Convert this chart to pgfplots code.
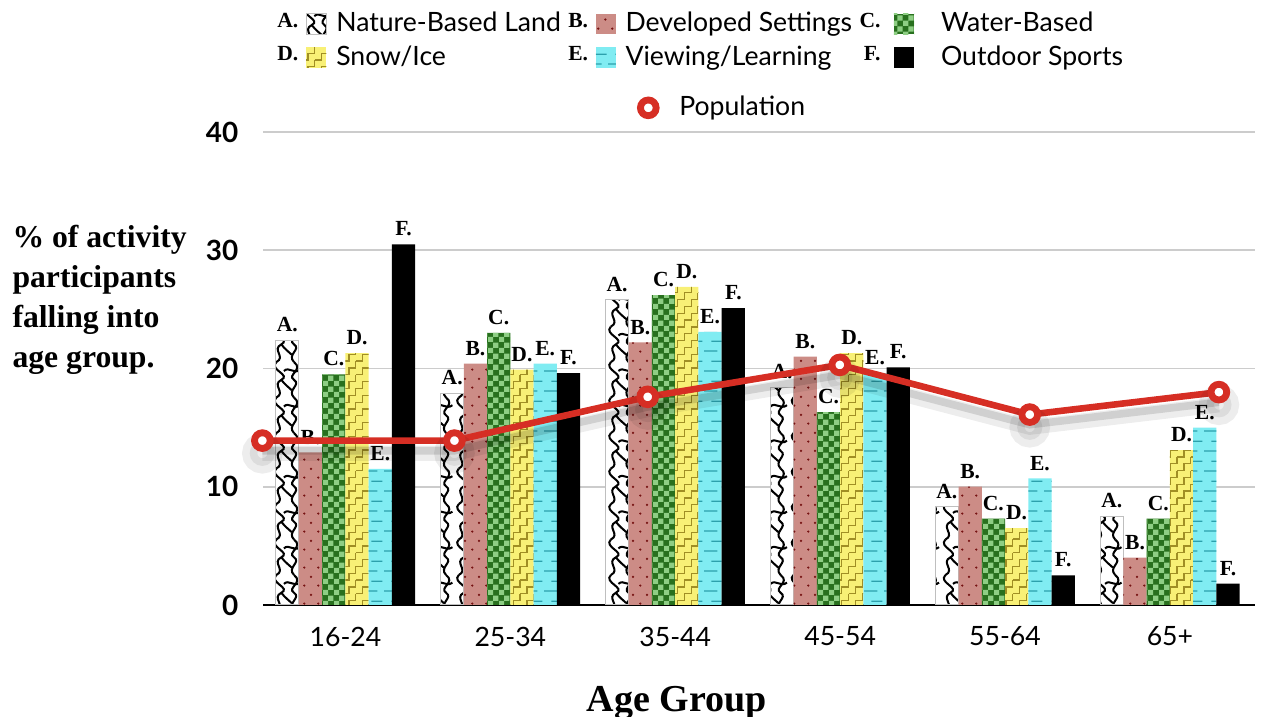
\documentclass[border=0pt]{standalone}
\usepackage{fontspec}
\setmainfont{Liberation Serif}
\setsansfont{Lato}
\usepackage{pgfplots}
\pgfplotsset{compat=1.18}
\usetikzlibrary{patterns}

\definecolor{pinkB}{RGB}{204,140,134}
\definecolor{dotB}{RGB}{118,18,18}
\definecolor{greenD}{RGB}{40,112,30}
\definecolor{greenL}{RGB}{142,206,132}
\definecolor{yelD}{RGB}{248,240,118}
\definecolor{yelL}{RGB}{160,142,36}
\definecolor{cyanE}{RGB}{128,236,242}
\definecolor{tealE}{RGB}{44,160,172}
\definecolor{popred}{RGB}{214,46,36}

% squiggles for nature-based land
\pgfdeclarepatternformonly{squig}{\pgfqpoint{-3pt}{-1pt}}{\pgfqpoint{15pt}{15pt}}{\pgfqpoint{12pt}{14pt}}{%
  \pgfsetlinewidth{0.8pt}%
  \pgfpathmoveto{\pgfqpoint{1pt}{0pt}}%
  \pgfpathcurveto{\pgfqpoint{5pt}{2pt}}{\pgfqpoint{-1pt}{5pt}}{\pgfqpoint{3pt}{7pt}}%
  \pgfpathcurveto{\pgfqpoint{7pt}{9pt}}{\pgfqpoint{-2pt}{11pt}}{\pgfqpoint{1pt}{14pt}}%
  \pgfpathmoveto{\pgfqpoint{8pt}{0pt}}%
  \pgfpathcurveto{\pgfqpoint{5pt}{3pt}}{\pgfqpoint{11pt}{5pt}}{\pgfqpoint{8pt}{7pt}}%
  \pgfpathcurveto{\pgfqpoint{5pt}{9pt}}{\pgfqpoint{12pt}{11pt}}{\pgfqpoint{8pt}{14pt}}%
  \pgfpathmoveto{\pgfqpoint{4pt}{10.5pt}}%
  \pgfpathcurveto{\pgfqpoint{6pt}{12.5pt}}{\pgfqpoint{8pt}{9pt}}{\pgfqpoint{10.5pt}{11pt}}%
  \pgfpathmoveto{\pgfqpoint{3pt}{7pt}}%
  \pgfpathcurveto{\pgfqpoint{4.5pt}{5pt}}{\pgfqpoint{6pt}{4pt}}{\pgfqpoint{7pt}{3pt}}%
  \pgfusepath{stroke}}
% dots
\pgfdeclarepatternformonly{dotsB}{\pgfqpoint{0pt}{0pt}}{\pgfqpoint{5.4pt}{7.2pt}}{\pgfqpoint{5.4pt}{7.2pt}}{%
  \pgfpathcircle{\pgfqpoint{1.35pt}{1.8pt}}{0.5pt}%
  \pgfpathcircle{\pgfqpoint{4.05pt}{5.4pt}}{0.5pt}%
  \pgfusepath{fill}}
% checkerboard
\pgfdeclarepatternformonly{checkC}{\pgfqpoint{0pt}{0pt}}{\pgfqpoint{4.4pt}{4.4pt}}{\pgfqpoint{4.4pt}{4.4pt}}{%
  \pgfpathrectangle{\pgfqpoint{0pt}{0pt}}{\pgfqpoint{2.2pt}{2.2pt}}%
  \pgfpathrectangle{\pgfqpoint{2.2pt}{2.2pt}}{\pgfqpoint{2.2pt}{2.2pt}}%
  \pgfusepath{fill}}
% stairs
\pgfdeclarepatternformonly{stairsD}{\pgfqpoint{-0.5pt}{-0.5pt}}{\pgfqpoint{5.9pt}{5.9pt}}{\pgfqpoint{5.4pt}{5.4pt}}{%
  \pgfsetlinewidth{0.5pt}%
  \pgfpathmoveto{\pgfqpoint{0pt}{0pt}}%
  \pgfpathlineto{\pgfqpoint{2.7pt}{0pt}}%
  \pgfpathlineto{\pgfqpoint{2.7pt}{2.7pt}}%
  \pgfpathlineto{\pgfqpoint{5.4pt}{2.7pt}}%
  \pgfpathlineto{\pgfqpoint{5.4pt}{5.4pt}}%
  \pgfusepath{stroke}}
% short dashes
\pgfdeclarepatternformonly{dashE}{\pgfqpoint{0pt}{0pt}}{\pgfqpoint{8pt}{8pt}}{\pgfqpoint{8pt}{8pt}}{%
  \pgfsetlinewidth{0.5pt}%
  \pgfpathmoveto{\pgfqpoint{0pt}{2pt}}\pgfpathlineto{\pgfqpoint{5.5pt}{2pt}}%
  \pgfpathmoveto{\pgfqpoint{3pt}{6pt}}\pgfpathlineto{\pgfqpoint{7.5pt}{6pt}}%
  \pgfusepath{stroke}}

\newcommand\barlbl{\rmfamily\bfseries\fontsize{8.5}{9}\selectfont}

\pgfplotsset{
  legletter/.style={legend image code/.code={%
    \node[anchor=east, inner sep=0pt, font=\barlbl] at (-0.1cm,0.03cm) {#1};
    \path[##1] (0cm,-0.14cm) rectangle (0.28cm,0.14cm);
    \path (0.36cm,0cm);}},
  % third legend column: letter and text stand further from the swatch
  legletterw/.style={legend image code/.code={%
    \node[anchor=east, inner sep=0pt, font=\barlbl] at (-0.18cm,0.03cm) {#1};
    \path[##1] (0cm,-0.14cm) rectangle (0.28cm,0.14cm);
    \path (0.6cm,0cm);}},
  serA/.style={fill=white, draw=black!25, line width=0.4pt,
    postaction={pattern=squig, pattern color=black}, legletter=A., nodes near coords={A.}},
  serB/.style={fill=pinkB, draw=none,
    postaction={pattern=dotsB, pattern color=dotB}, legletter=B., nodes near coords={B.}},
  serC/.style={fill=greenD, draw=none,
    postaction={pattern=checkC, pattern color=greenL}, legletterw=C., nodes near coords={C.}},
  serD/.style={fill=yelD, draw=none,
    postaction={pattern=stairsD, pattern color=yelL}, legletter=D., nodes near coords={D.}},
  serE/.style={fill=cyanE, draw=none,
    postaction={pattern=dashE, pattern color=tealE}, legletter=E., nodes near coords={E.}},
  serF/.style={fill=black, draw=none, legletterw=F., nodes near coords={F.}},
}

\begin{document}
\begin{tikzpicture}
\begin{axis}[
  scale only axis,
  width=13.756cm, height=6.559cm,
  xmin=-0.5, xmax=5.516, ymin=0, ymax=40,
  ybar=0pt, bar width=0.141,
  axis x line*=bottom, axis y line*=left,
  y axis line style={draw=none},
  x axis line style={black, line width=0.9pt},
  ymajorgrids, grid style={draw=black!20, line width=0.7pt},
  xtick={0,1,2,3,4,5},
  xticklabels={16-24,25-34,35-44,45-54,55-64,65+},
  ytick={0,10,20,30,40},
  major tick length=0pt, tick style={draw=none},
  /pgf/number format/assume math mode=true,
  xticklabel style={font=\sffamily\fontsize{10.5}{12}\selectfont, yshift=-0.18cm},
  yticklabel style={font=\sffamily\bfseries\fontsize{11}{13}\selectfont, xshift=-0.22cm},
  xlabel={Age Group},
  xlabel style={at={(axis description cs:0.417,0)}, anchor=north, yshift=-1.12cm,
    inner sep=0pt, font=\rmfamily\bfseries\fontsize{15}{18}\selectfont},
  ylabel={\% of activity\\participants\\falling into\\age group.},
  ylabel style={rotate=-90, at={(axis description cs:-0.253,0.803)}, anchor=north west,
    inner sep=0pt, align=left, font=\rmfamily\bfseries\fontsize{12.5}{15.7}\selectfont},
  every node near coord/.append style={font=\barlbl, inner sep=1.5pt, yshift=1.5pt},
  legend columns=3,
  legend cell align=left,
  legend style={at={(axis description cs:0.014,1.262)}, anchor=north west,
    draw=none, fill=none, inner sep=0pt, row sep=1pt,
    nodes={inner sep=1.5pt},
    font=\sffamily\fontsize{10.5}{12.6}\selectfont,
    /tikz/every even column/.append style={column sep=0.05cm}},
]
\addplot[serA] coordinates {(0,22.4) (1,17.9) (2,25.8) (3,18.4) (4,8.3) (5,7.5)};
\addlegendentry{Nature-Based Land}
\addplot[serB] coordinates {(0,12.9) (1,20.4) (2,22.2) (3,21.0) (4,10.0) (5,4.0)};
\addlegendentry{Developed Settings}
\addplot[serC] coordinates {(0,19.5) (1,23.0) (2,26.2) (3,16.3) (4,7.3) (5,7.3)};
\addlegendentry{Water-Based}
\addplot[serD] coordinates {(0,21.3) (1,19.9) (2,26.9) (3,21.3) (4,6.5) (5,13.1)};
\addlegendentry{Snow/Ice}
\addplot[serE] coordinates {(0,11.5) (1,20.4) (2,23.1) (3,19.6) (4,10.7) (5,15.0)};
\addlegendentry{Viewing/Learning}
\addplot[serF] coordinates {(0,30.5) (1,19.6) (2,25.1) (3,20.1) (4,2.5) (5,1.8)};
\addlegendentry{Outdoor Sports}
\coordinate (bl) at (rel axis cs:0,0);
\coordinate (tr) at (rel axis cs:1,1);
\end{axis}

% population line, on its own axis so its legend sits on a row of its own
\begin{axis}[
  scale only axis,
  width=13.756cm, height=6.559cm,
  xmin=-0.5, xmax=5.516, ymin=0, ymax=40,
  hide axis, clip=false,
  legend style={at={(axis description cs:0.466,1.051)}, anchor=center,
    draw=none, fill=none, inner sep=0pt,
    font=\sffamily\fontsize{10.5}{12.6}\selectfont,
    /tikz/every odd column/.append style={column sep=0.25cm}},
]
\addplot[forget plot, black, opacity=0.07, line width=6pt, yshift=-5pt,
  mark=*, mark size=5pt, mark options={draw=none, fill=black}]
  coordinates {(-0.504,13.9) (0.661,13.9) (1.833,17.6) (2.998,20.3) (4.15,16.1) (5.297,18.0)};
\addplot[forget plot, black, opacity=0.12, line width=3pt, yshift=-4pt]
  coordinates {(-0.504,13.9) (0.661,13.9) (1.833,17.6) (2.998,20.3) (4.15,16.1) (5.297,18.0)};
\addplot[forget plot, popred, line width=2.6pt, mark=*, mark size=3.1pt,
  mark options={fill=white, draw=popred, line width=2.7pt}]
  coordinates {(-0.504,13.9) (0.661,13.9) (1.833,17.6) (2.998,20.3) (4.15,16.1) (5.297,18.0)};
\addlegendimage{only marks, mark=*, mark size=3.1pt,
  mark options={fill=white, draw=popred, line width=2.7pt}}
\addlegendentry{Population}
\end{axis}

\pgfresetboundingbox
\path ([shift={(-3.647cm,-1.553cm)}]bl) rectangle ([shift={(0.097cm,1.830cm)}]tr);
\end{tikzpicture}
\end{document}
